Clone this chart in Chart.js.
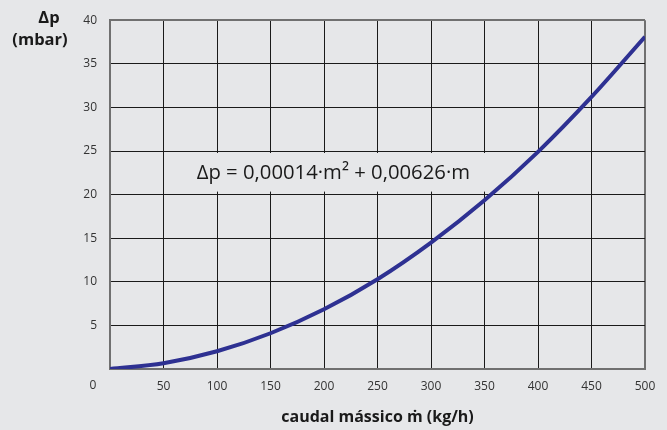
<!DOCTYPE html>
<html>
<head>
<meta charset="utf-8">
<script src="https://cdn.jsdelivr.net/npm/chart.js@4"></script>
<style>
  html, body { margin: 0; padding: 0; background: #e6e7e9; }
  #wrap { width: 667px; height: 430px; }
</style>
</head>
<body>
<div id="wrap"><canvas id="chart" width="667" height="430"></canvas></div>
<script>
// values
const massFlow = [0, 50, 100, 150, 200, 250, 300, 350, 400, 450, 500];
const pressureDrop = [0, 0.66, 2.03, 4.1, 6.85, 10.3, 14.5, 19.35, 24.9, 31.2, 38.1];
const xTicks = [0, 50, 100, 150, 200, 250, 300, 350, 400, 450, 500];
const yTicks = [0, 5, 10, 15, 20, 25, 30, 35, 40];
const yTitle = ['\u0394p', '(mbar)'];
const xTitle = 'caudal m\u00e1ssico \u1e41 (kg/h)';
const formula = '\u0394p = 0,00014\u00b7m\u00b2 + 0,00626\u00b7m';

const FONT = "'Open Sans', 'DejaVu Sans', sans-serif";
const BG = '#e6e7e9';

const extras = {
  id: 'extras',
  beforeDraw(chart) {
    const ctx = chart.ctx;
    ctx.save();
    ctx.fillStyle = BG;
    ctx.fillRect(0, 0, chart.width, chart.height);
    ctx.restore();
  },
  beforeDatasetsDraw(chart) {
    const { ctx, scales: { x, y } } = chart;
    ctx.save();
    // formula box hides the inner grid lines
    const x0 = x.getPixelForValue(50) + 1, x1 = x.getPixelForValue(450) - 1;
    const yTop = y.getPixelForValue(25) + 2, yBot = y.getPixelForValue(20) - 3;
    ctx.fillStyle = BG;
    ctx.fillRect(x0, yTop, x1 - x0, yBot - yTop);
    ctx.fillStyle = '#1a1a1a';
    ctx.font = '20.3px ' + FONT;
    ctx.textAlign = 'left';
    ctx.textBaseline = 'middle';
    ctx.fillText(formula, x.getPixelForValue(81), (yTop + yBot) / 2 + 1);
    ctx.restore();
  },
  afterDraw(chart) {
    const { ctx, scales: { x, y } } = chart;
    ctx.save();
    ctx.fillStyle = '#1a1a1a';
    ctx.textAlign = 'center';
    ctx.textBaseline = 'middle';
    // y axis title
    ctx.font = 'bold 16.5px ' + FONT;
    ctx.fillText(yTitle[0], 49, 18);
    ctx.fillText(yTitle[1], 40, 40);
    // shared origin label
    ctx.font = '12px ' + FONT;
    ctx.fillStyle = '#333';
    ctx.fillText('0', x.left - 17, y.bottom + 17);
    ctx.restore();
  }
};

const gridColor = c => (c.index === c.scale.ticks.length - 1 ? '#707070' : '#1a1a1a');
const gridWidth = c => (c.index === c.scale.ticks.length - 1 ? 2 : 1);

new Chart(document.getElementById('chart'), {
  type: 'line',
  data: {
    labels: massFlow,
    datasets: [{
      data: massFlow.map((m, i) => ({ x: m, y: pressureDrop[i] })),
      borderColor: '#2e3192',
      borderWidth: 4,
      pointRadius: 0,
      cubicInterpolationMode: 'monotone',
      fill: false
    }]
  },
  options: {
    responsive: false,
    animation: false,
    layout: { padding: { top: 13, right: 22, left: 0, bottom: 0 } },
    plugins: { legend: { display: false }, tooltip: { enabled: false } },
    scales: {
      x: {
        type: 'linear',
        min: 0, max: 500,
        afterBuildTicks: s => { s.ticks = xTicks.map(v => ({ value: v })); },
        afterFit: s => { s.height = 61; },
        ticks: {
          padding: 10,
          color: '#333',
          font: { family: FONT, size: 12 },
          callback: v => (v === 0 ? '' : v)
        },
        grid: { color: gridColor, lineWidth: gridWidth, drawTicks: false },
        border: { color: '#707070', width: 2 },
        title: {
          display: true,
          text: xTitle,
          color: '#1a1a1a',
          font: { family: FONT, size: 16, weight: 'bold' },
          padding: { top: 0, bottom: 3 }
        }
      },
      y: {
        min: 0, max: 40,
        afterBuildTicks: s => { s.ticks = yTicks.map(v => ({ value: v })); },
        afterFit: s => { s.width = 110; },
        ticks: {
          padding: 13,
          color: '#333',
          font: { family: FONT, size: 12 },
          callback: v => (v === 0 ? '' : v)
        },
        grid: { color: gridColor, lineWidth: gridWidth, drawTicks: false },
        border: { color: '#707070', width: 2 }
      }
    }
  },
  plugins: [extras]
});
</script>
</body>
</html>
